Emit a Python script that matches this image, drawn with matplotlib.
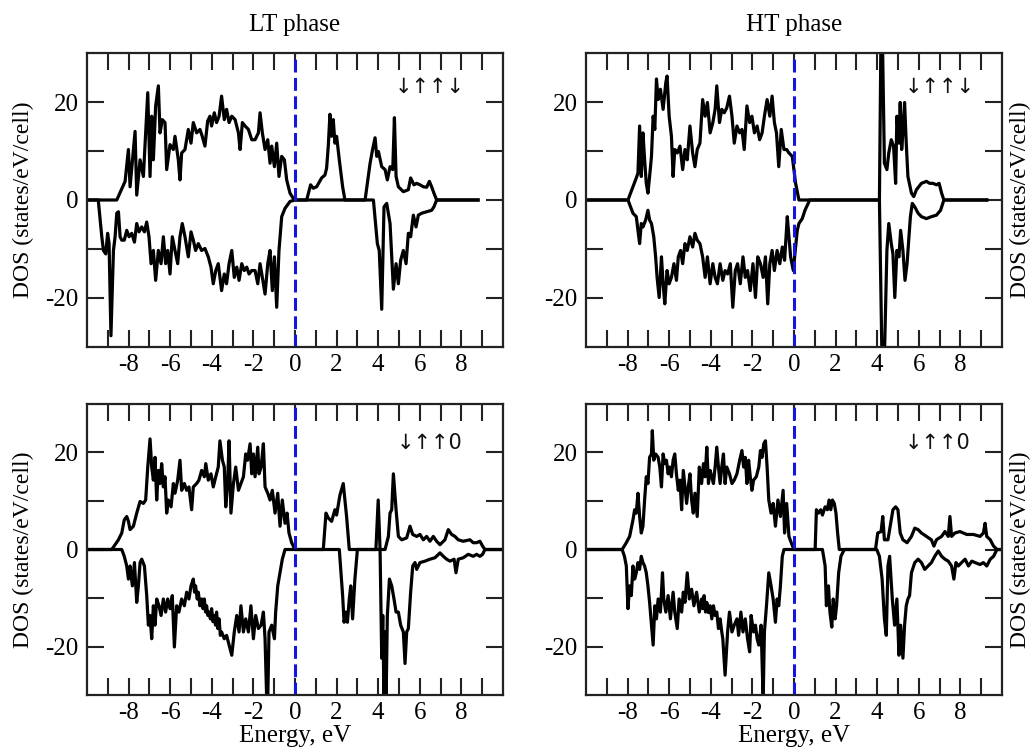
import numpy as np
import matplotlib.pyplot as plt

plt.rcParams['font.family'] = ['Liberation Serif', 'DejaVu Serif']
plt.rcParams['axes.unicode_minus'] = False

# ---- DOS data, (energy in eV, states/eV/cell); spin up > 0, spin down < 0 ----

# LT phase, down-up-up-down
lt_a_up = [(-10, 0), (-8.57, 0), (-8.17, 3.8), (-8.01, 10.3), (-7.93, 2.7), (-7.69, 14.0), (-7.61, 1.0),
           (-7.45, 8.2), (-7.29, 4.8), (-7.08, 21.9), (-6.97, 4.8), (-6.89, 17.1), (-6.81, 8.2), (-6.70, 19.2),
           (-6.57, 23.3), (-6.49, 13.7), (-6.38, 16.4), (-6.25, 15.8), (-6.17, 6.2), (-6.01, 11.3), (-5.85, 10.3),
           (-5.77, 13.0), (-5.61, 8.2), (-5.53, 4.1), (-5.45, 9.6), (-5.29, 10.3), (-5.13, 14.4), (-5.00, 11.6),
           (-4.89, 15.8), (-4.73, 13.7), (-4.57, 14.4), (-4.46, 13.0), (-4.33, 11.0), (-4.20, 16.1), (-4.09, 17.1),
           (-4.01, 15.1), (-3.88, 17.8), (-3.77, 15.8), (-3.65, 17.1), (-3.53, 21.2), (-3.40, 16.4), (-3.29, 18.5),
           (-3.17, 15.8), (-3.04, 17.1), (-2.88, 16.4), (-2.72, 13.7), (-2.64, 10.3), (-2.53, 15.8), (-2.40, 15.1),
           (-2.24, 14.4), (-2.08, 12.3), (-1.92, 12.3), (-1.76, 13.7), (-1.68, 17.8), (-1.57, 13.7), (-1.44, 10.3),
           (-1.31, 12.3), (-1.20, 7.5), (-1.12, 11.0), (-0.99, 6.8), (-0.88, 11.6), (-0.77, 4.8), (-0.64, 8.9),
           (-0.51, 8.2), (-0.40, 4.1), (-0.24, 1.4), (-0.08, 0.3), (0, 0),
           (0.56, 0), (0.75, 3.1), (0.88, 2.4), (1.04, 2.7), (1.28, 4.5), (1.44, 5.1), (1.52, 6.5), (1.60, 11.0),
           (1.68, 17.5), (1.76, 13.0), (1.84, 16.4), (1.92, 11.6), (2.00, 13.0), (2.13, 8.2), (2.29, 2.7), (2.40, 0),
           (3.37, 0), (3.61, 7.5), (3.73, 10.3), (3.85, 12.7), (3.93, 8.9), (4.01, 9.9), (4.17, 6.8), (4.33, 6.2),
           (4.44, 4.1), (4.57, 6.8), (4.70, 6.2), (4.78, 16.8), (4.86, 4.8), (4.97, 2.7), (5.21, 1.7), (5.45, 2.1),
           (5.56, 4.5), (5.72, 3.1), (5.85, 3.4), (6.01, 3.1), (6.17, 2.7), (6.33, 2.6), (6.46, 3.8), (6.57, 2.7),
           (6.68, 1.4), (6.81, 0), (8.80, 0)]
lt_a_dn = [(-10, 0), (-9.46, 0), (-9.29, -7.5), (-9.21, -10.3), (-9.10, -11.0), (-9.01, -6.8), (-8.94, -8.9),
           (-8.85, -27.7), (-8.73, -10.3), (-8.65, -7.5), (-8.57, -2.7), (-8.49, -2.4), (-8.41, -7.5), (-8.33, -8.2),
           (-8.21, -8.2), (-8.09, -6.2), (-7.98, -7.5), (-7.85, -6.8), (-7.72, -8.6), (-7.61, -4.8), (-7.50, -6.5),
           (-7.37, -5.5), (-7.24, -6.5), (-7.13, -4.5), (-7.02, -7.5), (-6.92, -13.0), (-6.81, -10.3), (-6.70, -16.4),
           (-6.57, -10.3), (-6.44, -13.0), (-6.33, -7.5), (-6.22, -13.0), (-6.12, -10.3), (-6.01, -15.1), (-5.90, -7.5),
           (-5.77, -10.3), (-5.64, -13.0), (-5.53, -7.5), (-5.42, -4.8), (-5.29, -7.5), (-5.13, -11.6), (-5.00, -6.5),
           (-4.89, -8.2), (-4.78, -10.3), (-4.65, -8.9), (-4.49, -10.3), (-4.33, -9.9), (-4.17, -11.6), (-4.04, -13.7),
           (-3.93, -17.1), (-3.81, -14.4), (-3.69, -13.0), (-3.53, -18.5), (-3.40, -15.1), (-3.29, -17.1),
           (-3.17, -13.0), (-3.04, -10.3), (-2.92, -15.8), (-2.80, -13.7), (-2.69, -16.4), (-2.56, -13.0),
           (-2.44, -14.4), (-2.32, -13.7), (-2.21, -15.1), (-2.08, -14.4), (-1.92, -14.4), (-1.79, -17.1),
           (-1.68, -13.0), (-1.57, -15.8), (-1.44, -19.2), (-1.31, -13.0), (-1.20, -10.3), (-1.09, -18.5),
           (-0.99, -11.6), (-0.88, -21.9), (-0.77, -10.3), (-0.64, -3.4), (-0.48, -1.7), (-0.24, -0.3), (0, 0),
           (3.77, 0), (3.96, -8.9), (4.05, -10.3), (4.17, -22.3), (4.28, -1.4), (4.41, -0.7), (4.57, -4.8),
           (4.73, -18.2), (4.86, -13.0), (4.97, -17.1), (5.08, -12.3), (5.21, -10.3), (5.34, -13.0), (5.45, -6.8),
           (5.56, -7.5), (5.69, -3.1), (5.82, -5.5), (5.93, -3.1), (6.09, -2.7), (6.33, -2.4), (6.57, -2.1),
           (6.68, -1.4), (6.81, 0), (8.80, 0)]

# HT phase, down-up-up-down
ht_a_up = [(-10, 0), (-7.98, 0), (-7.74, 2.7), (-7.58, 4.5), (-7.50, 5.5), (-7.42, 15.1), (-7.34, 4.8),
           (-7.26, 13.7), (-7.18, 8.2), (-7.10, 3.4), (-7.02, 1.4), (-6.94, 4.8), (-6.85, 8.9), (-6.77, 17.1),
           (-6.69, 14.4), (-6.61, 24.7), (-6.53, 20.5), (-6.42, 22.6), (-6.29, 18.5), (-6.16, 24.0), (-6.10, 25.3),
           (-6.00, 17.1), (-5.89, 13.0), (-5.81, 4.8), (-5.73, 10.3), (-5.61, 9.6), (-5.48, 11.0), (-5.35, 6.2),
           (-5.24, 10.3), (-5.13, 8.2), (-5.00, 15.1), (-4.87, 9.6), (-4.76, 6.8), (-4.65, 10.3), (-4.52, 11.6),
           (-4.39, 20.5), (-4.27, 17.1), (-4.16, 19.9), (-4.03, 13.7), (-3.90, 15.8), (-3.79, 18.5), (-3.71, 23.3),
           (-3.58, 15.8), (-3.47, 18.5), (-3.35, 17.8), (-3.23, 18.8), (-3.10, 21.2), (-2.98, 17.1), (-2.87, 11.6),
           (-2.74, 15.1), (-2.61, 13.7), (-2.50, 14.4), (-2.39, 10.3), (-2.26, 19.2), (-2.13, 15.8), (-2.02, 17.1),
           (-1.90, 13.7), (-1.77, 15.1), (-1.65, 12.3), (-1.53, 13.7), (-1.42, 17.1), (-1.29, 20.5), (-1.16, 17.1),
           (-1.05, 21.2), (-0.94, 15.8), (-0.84, 13.7), (-0.73, 6.8), (-0.61, 14.4), (-0.48, 10.3), (-0.35, 10.3),
           (-0.24, 9.6), (-0.08, 8.9), (0.08, 3.4), (0.24, 0),
           (4.11, 0), (4.21, 45.0), (4.35, 7.5), (4.47, 6.2), (4.56, 9.6), (4.68, 12.3), (4.79, 11.0), (4.89, 3.4),
           (4.95, 17.1), (5.05, 11.6), (5.11, 19.9), (5.18, 10.3), (5.24, 13.7), (5.32, 19.9), (5.40, 11.6),
           (5.48, 4.8), (5.65, 1.4), (5.76, 0.7), (5.89, 2.1), (6.13, 3.4), (6.37, 3.8), (6.53, 3.4), (6.69, 3.4),
           (6.85, 3.1), (6.98, 3.4), (7.10, 1.4), (7.21, 0), (9.27, 0)]
ht_a_dn = [(-10, 0), (-7.98, 0), (-7.74, -2.7), (-7.58, -3.4), (-7.50, -6.2), (-7.42, -8.9), (-7.34, -4.8),
           (-7.26, -5.5), (-7.13, -4.1), (-7.02, -2.1), (-6.94, -4.1), (-6.85, -4.8), (-6.74, -7.5), (-6.65, -11.6),
           (-6.58, -15.8), (-6.48, -19.9), (-6.37, -11.6), (-6.29, -17.1), (-6.21, -21.2), (-6.10, -14.4),
           (-6.00, -17.1), (-5.89, -15.8), (-5.77, -13.0), (-5.65, -16.4), (-5.56, -11.6), (-5.45, -10.3),
           (-5.35, -13.0), (-5.24, -8.9), (-5.13, -10.3), (-5.00, -7.5), (-4.87, -9.6), (-4.76, -6.8), (-4.65, -8.2),
           (-4.52, -8.9), (-4.39, -11.6), (-4.27, -15.8), (-4.16, -11.6), (-4.03, -17.1), (-3.90, -13.0),
           (-3.79, -15.8), (-3.68, -17.1), (-3.55, -13.0), (-3.42, -16.4), (-3.31, -14.4), (-3.19, -15.1),
           (-3.06, -13.0), (-2.94, -21.9), (-2.82, -14.4), (-2.71, -13.0), (-2.58, -17.1), (-2.45, -11.6),
           (-2.34, -15.8), (-2.23, -14.4), (-2.10, -18.5), (-1.97, -13.0), (-1.85, -19.9), (-1.74, -11.6),
           (-1.61, -13.0), (-1.48, -15.8), (-1.37, -11.6), (-1.26, -21.2), (-1.16, -13.0), (-1.05, -10.3),
           (-0.94, -14.4), (-0.81, -10.3), (-0.68, -13.0), (-0.56, -9.6), (-0.45, -12.3), (-0.32, -3.4),
           (-0.24, -7.5), (-0.16, -11.6), (-0.03, -14.4), (0.08, -9.6), (0.16, -6.2), (0.24, -4.8), (0.40, -3.8),
           (0.53, -2.1), (0.65, -1.0), (0.76, 0),
           (4.11, 0), (4.28, -45.0), (4.47, -10.3), (4.56, -4.8), (4.68, -8.9), (4.76, -11.0), (4.85, -19.9),
           (4.95, -10.3), (5.05, -11.6), (5.13, -6.2), (5.24, -10.3), (5.34, -16.4), (5.44, -13.0), (5.53, -7.5),
           (5.60, -3.4), (5.69, -0.7), (5.81, -1.4), (5.97, -2.7), (6.13, -3.4), (6.37, -3.8), (6.61, -3.4),
           (6.85, -3.1), (7.05, -2.1), (7.21, 0), (9.27, 0)]

# LT phase, down-up-up-0
lt_b_up = [(-10, 0), (-8.81, 0), (-8.49, 2.0), (-8.33, 3.4), (-8.21, 6.1), (-8.09, 6.8), (-8.01, 5.8),
           (-7.93, 4.1), (-7.77, 4.8), (-7.61, 7.5), (-7.45, 9.9), (-7.29, 9.5), (-7.18, 10.2), (-7.08, 17.0),
           (-6.97, 22.8), (-6.89, 17.0), (-6.81, 14.3), (-6.73, 19.0), (-6.65, 10.2), (-6.57, 16.3), (-6.49, 13.6),
           (-6.41, 17.7), (-6.33, 12.9), (-6.25, 15.0), (-6.17, 7.5), (-6.09, 10.2), (-5.96, 8.8), (-5.85, 13.6),
           (-5.77, 11.6), (-5.64, 14.3), (-5.53, 18.4), (-5.45, 12.2), (-5.32, 13.6), (-5.21, 12.2), (-5.10, 12.9),
           (-4.97, 8.2), (-4.89, 12.9), (-4.73, 13.6), (-4.62, 14.3), (-4.49, 16.3), (-4.36, 15.0), (-4.29, 17.7),
           (-4.17, 14.3), (-4.04, 15.6), (-3.93, 12.9), (-3.81, 15.0), (-3.69, 17.0), (-3.61, 22.4), (-3.49, 18.4),
           (-3.40, 17.0), (-3.33, 8.8), (-3.24, 13.6), (-3.17, 22.4), (-3.08, 7.5), (-2.96, 13.6), (-2.85, 17.0),
           (-2.72, 12.2), (-2.60, 13.6), (-2.48, 15.0), (-2.37, 19.7), (-2.28, 18.4), (-2.16, 21.8), (-2.08, 15.6),
           (-2.00, 19.7), (-1.92, 15.0), (-1.79, 21.1), (-1.73, 15.6), (-1.63, 17.0), (-1.52, 21.8), (-1.44, 12.9),
           (-1.31, 11.6), (-1.20, 10.2), (-1.09, 12.2), (-0.96, 7.5), (-0.83, 11.6), (-0.72, 4.8), (-0.61, 10.2),
           (-0.48, 5.4), (-0.38, 7.5), (-0.29, 3.4), (-0.16, 1.4), (0, 0),
           (1.36, 0), (1.49, 7.5), (1.60, 6.5), (1.76, 5.8), (1.92, 8.2), (2.00, 7.1), (2.16, 11.2), (2.32, 13.6),
           (2.40, 10.2), (2.48, 6.8), (2.61, 0), (3.89, 0), (4.00, 10.2), (4.09, 0),
           (4.33, 0), (4.49, 2.7), (4.57, 7.5), (4.65, 8.2), (4.73, 15.6), (4.86, 8.2), (4.97, 2.7), (5.13, 2.0),
           (5.37, 2.4), (5.53, 4.8), (5.66, 3.1), (5.85, 2.7), (6.01, 3.1), (6.17, 2.0), (6.33, 2.7), (6.49, 1.7),
           (6.65, 2.7), (6.81, 1.7), (6.97, 1.0), (7.21, 2.0), (7.37, 4.1), (7.53, 3.1), (7.69, 2.7), (7.85, 2.0),
           (8.09, 1.7), (8.41, 2.0), (8.57, 1.4), (8.73, 1.4), (8.89, 1.7), (9.02, 0.7), (9.13, 0), (10, 0)]
lt_b_dn = [(-10, 0), (-8.33, 0), (-8.21, -1.4), (-8.09, -3.4), (-8.01, -6.1), (-7.93, -3.4), (-7.82, -7.5),
           (-7.72, -2.7), (-7.61, -10.9), (-7.53, -7.5), (-7.45, -2.7), (-7.37, -2.0), (-7.24, -3.4), (-7.13, -9.5),
           (-7.05, -15.6), (-6.97, -13.6), (-6.89, -18.4), (-6.81, -11.6), (-6.73, -15.6), (-6.65, -10.2),
           (-6.54, -11.6), (-6.44, -13.6), (-6.33, -10.2), (-6.22, -12.9), (-6.12, -10.2), (-6.01, -12.2),
           (-5.90, -9.5), (-5.80, -20.1), (-5.69, -11.6), (-5.58, -12.9), (-5.45, -10.2), (-5.32, -11.6),
           (-5.21, -8.8), (-5.10, -10.2), (-5.00, -7.5), (-4.89, -6.1), (-4.83, -8.8), (-4.78, -7.5), (-4.70, -10.2),
           (-4.65, -8.8), (-4.57, -11.6), (-4.49, -10.2), (-4.42, -12.2), (-4.36, -10.2), (-4.30, -12.9),
           (-4.25, -11.6), (-4.19, -13.6), (-4.13, -12.9), (-4.07, -14.3), (-4.01, -12.2), (-3.94, -14.9),
           (-3.88, -13.6), (-3.82, -15.6), (-3.77, -12.9), (-3.71, -16.3), (-3.65, -14.3), (-3.59, -17.7),
           (-3.53, -17.0), (-3.40, -18.4), (-3.29, -17.7), (-3.17, -19.7), (-3.04, -21.8),
           (-2.92, -17.0), (-2.80, -13.6), (-2.69, -17.0), (-2.60, -11.6), (-2.48, -17.0), (-2.37, -14.3),
           (-2.24, -17.0), (-2.12, -11.6), (-2.00, -18.4), (-1.89, -13.6), (-1.76, -16.3), (-1.63, -15.6),
           (-1.52, -12.9), (-1.44, -18.4), (-1.36, -31.0), (-1.31, -31.0), (-1.25, -17.0), (-1.12, -15.6),
           (-0.99, -18.4), (-0.93, -12.9), (-0.83, -7.5), (-0.72, -4.8), (-0.61, -2.0), (-0.48, 0),
           (2.13, 0), (2.29, -9.5), (2.36, -15.0), (2.45, -12.9), (2.52, -15.0), (2.61, -10.2), (2.68, -7.5),
           (2.77, -14.3), (2.88, -6.1), (3.00, 0), (4.09, 0), (4.17, -22.4), (4.22, -13.6), (4.28, -31.0),
           (4.33, -17.0), (4.38, -31.0), (4.44, -13.6), (4.54, -6.1), (4.65, -7.5), (4.76, -10.2), (4.86, -12.9),
           (4.97, -12.9), (5.08, -15.6), (5.21, -17.0), (5.29, -23.5), (5.37, -17.0), (5.45, -16.3), (5.56, -8.8),
           (5.66, -3.4), (5.77, -2.7), (5.85, -4.1), (6.01, -2.7), (6.25, -2.4), (6.49, -2.0), (6.73, -1.7),
           (6.97, -0.7), (7.13, -1.4), (7.29, -2.0), (7.45, -2.4), (7.65, -2.0), (7.74, -4.8), (7.85, -2.0),
           (8.09, -1.7), (8.33, -1.0), (8.57, -1.4), (8.73, -1.0), (8.89, -1.4), (9.02, -1.0), (9.13, 0), (10, 0)]

# HT phase, down-up-up-0
ht_b_up = [(-10, 0), (-8.26, 0), (-8.06, 1.4), (-7.90, 2.7), (-7.74, 6.1), (-7.66, 8.2), (-7.58, 7.5),
           (-7.50, 11.6), (-7.42, 6.8), (-7.34, 3.4), (-7.26, 4.8), (-7.18, 10.2), (-7.10, 15.0), (-7.02, 13.6),
           (-6.94, 19.0), (-6.85, 19.7), (-6.81, 24.5), (-6.74, 18.4), (-6.65, 19.7), (-6.53, 19.0), (-6.45, 17.0),
           (-6.37, 12.9), (-6.29, 19.7), (-6.21, 17.7), (-6.13, 18.4), (-6.05, 15.6), (-5.97, 17.0), (-5.89, 15.0),
           (-5.81, 18.4), (-5.73, 19.7), (-5.65, 15.6), (-5.56, 12.2), (-5.48, 14.3), (-5.40, 8.2), (-5.32, 16.3),
           (-5.24, 12.9), (-5.16, 9.5), (-5.08, 12.9), (-5.00, 15.6), (-4.92, 10.2), (-4.84, 7.5), (-4.76, 11.6),
           (-4.65, 6.8), (-4.55, 17.0), (-4.44, 13.6), (-4.35, 17.7), (-4.27, 15.0), (-4.19, 21.1), (-4.11, 13.6),
           (-4.03, 16.3), (-3.95, 15.0), (-3.87, 13.6), (-3.79, 17.0), (-3.71, 21.1), (-3.63, 17.0), (-3.55, 13.6),
           (-3.47, 17.0), (-3.39, 19.7), (-3.31, 13.6), (-3.23, 17.0), (-3.10, 15.6), (-2.98, 13.6), (-2.87, 14.3),
           (-2.74, 15.6), (-2.61, 18.4), (-2.50, 20.4), (-2.42, 17.0), (-2.34, 19.0), (-2.26, 13.6), (-2.18, 18.4),
           (-2.10, 15.0), (-2.02, 12.2), (-1.94, 14.3), (-1.81, 15.0), (-1.69, 17.0), (-1.61, 20.4), (-1.53, 19.0),
           (-1.45, 21.8), (-1.37, 22.4), (-1.29, 17.0), (-1.21, 10.2), (-1.10, 7.5), (-1.00, 9.5), (-0.89, 4.8),
           (-0.77, 10.2), (-0.65, 6.8), (-0.52, 12.2), (-0.45, 3.4), (-0.35, 9.5), (-0.24, 2.7), (-0.13, 1.4), (0, 0),
           (1.02, 0), (1.08, 8.2), (1.18, 7.5), (1.29, 8.2), (1.37, 7.1), (1.50, 8.8), (1.61, 8.2), (1.69, 10.2),
           (1.77, 8.2), (1.85, 10.2), (1.94, 9.5), (2.02, 7.5), (2.10, 3.4), (2.18, 0),
           (3.92, 0), (4.03, 3.4), (4.19, 3.7), (4.27, 6.8), (4.35, 2.0), (4.52, 2.0), (4.76, 8.2), (4.89, 8.8),
           (5.00, 8.2), (5.11, 3.4), (5.24, 2.0), (5.44, 1.4), (5.65, 2.7), (5.81, 4.4), (5.97, 4.1), (6.13, 3.4),
           (6.37, 2.7), (6.61, 2.0), (6.73, 0.7), (6.85, 2.0), (7.10, 2.7), (7.26, 3.7), (7.42, 2.7), (7.50, 6.8),
           (7.58, 2.7), (7.74, 3.4), (7.98, 3.7), (8.15, 3.4), (8.31, 3.1), (8.63, 3.1), (8.95, 2.7), (9.11, 3.4),
           (9.19, 5.4), (9.27, 2.7), (9.44, 2.0), (9.60, 0.7), (9.76, 0), (10, 0)]
ht_b_dn = [(-10, 0), (-8.26, 0), (-8.15, -1.4), (-8.06, -3.4), (-7.98, -12.2), (-7.90, -7.5), (-7.82, -9.5),
           (-7.74, -3.4), (-7.66, -6.1), (-7.58, -4.8), (-7.50, -2.7), (-7.42, -4.1), (-7.34, -1.4), (-7.26, -2.7),
           (-7.18, -3.4), (-7.10, -4.8), (-7.02, -7.5), (-6.94, -10.9), (-6.85, -15.6), (-6.77, -19.7),
           (-6.69, -11.6), (-6.61, -14.3), (-6.53, -10.2), (-6.42, -12.9), (-6.32, -4.8), (-6.26, -10.2),
           (-6.16, -12.9), (-6.05, -9.5), (-5.94, -14.3), (-5.81, -8.8), (-5.73, -12.9), (-5.61, -16.3),
           (-5.52, -10.2), (-5.40, -12.9), (-5.32, -8.8), (-5.24, -10.9), (-5.13, -4.8), (-5.03, -10.2),
           (-4.92, -8.2), (-4.81, -11.6), (-4.68, -8.8), (-4.55, -12.9), (-4.44, -10.2), (-4.38, -12.2),
           (-4.32, -9.5), (-4.25, -12.9), (-4.19, -10.9), (-4.11, -13.0), (-4.03, -11.6), (-3.95, -14.3),
           (-3.87, -11.6), (-3.79, -13.6), (-3.71, -12.9), (-3.63, -16.3), (-3.55, -14.3), (-3.47, -17.0),
           (-3.42, -18.4), (-3.31, -25.9), (-3.19, -17.0), (-3.10, -12.9), (-2.98, -17.0), (-2.87, -15.6),
           (-2.74, -14.3), (-2.66, -17.7), (-2.55, -12.9), (-2.45, -17.0), (-2.34, -14.3), (-2.23, -18.4),
           (-2.13, -21.1), (-2.06, -13.6), (-1.94, -17.0), (-1.85, -15.6), (-1.77, -18.4), (-1.69, -19.7),
           (-1.58, -15.6), (-1.48, -31.0), (-1.42, -17.0), (-1.32, -11.6), (-1.21, -4.8), (-1.10, -7.5),
           (-1.00, -10.2), (-0.89, -15.0), (-0.81, -10.2), (-0.73, -11.6), (-0.65, -7.5), (-0.56, -1.4), (-0.48, 0),
           (1.37, 0), (1.50, -3.4), (1.56, -11.6), (1.66, -7.5), (1.73, -12.9), (1.82, -16.0), (1.89, -10.2),
           (1.98, -14.3), (2.05, -11.6), (2.15, -4.8), (2.26, -1.4), (2.42, 0),
           (3.98, 0), (4.11, -1.4), (4.24, -6.1), (4.35, -14.3), (4.44, -17.7), (4.52, -3.4), (4.60, -1.4),
           (4.73, -10.2), (4.84, -15.6), (4.95, -10.2), (5.05, -21.8), (5.13, -15.6), (5.24, -22.4), (5.32, -15.6),
           (5.40, -11.6), (5.48, -10.2), (5.56, -9.5), (5.65, -4.8), (5.81, -2.7), (5.97, -2.0), (6.13, -2.7),
           (6.29, -4.1), (6.45, -3.4), (6.61, -2.7), (6.77, -1.4), (6.94, -0.3), (7.10, -1.4), (7.26, -2.0),
           (7.42, -2.4), (7.58, -3.4), (7.69, -6.1), (7.79, -2.7), (7.90, -3.4), (8.06, -2.7), (8.23, -2.0),
           (8.39, -3.4), (8.55, -2.4), (8.71, -2.7), (8.95, -3.1), (9.11, -2.7), (9.27, -3.4), (9.44, -2.0),
           (9.60, -1.4), (9.76, 0), (10, 0)]

titles = ['LT phase', 'HT phase']
configs = ['\u2193\u2191\u2191\u2193', '\u2193\u2191\u2191\u2193', '\u2193\u2191\u21910', '\u2193\u2191\u21910']
label_x = [6.5, 7.0, 6.45, 6.9]
label_y = [23, 23, 22, 22]
panels = [(lt_a_up, lt_a_dn), (ht_a_up, ht_a_dn), (lt_b_up, lt_b_dn), (ht_b_up, ht_b_dn)]

fig = plt.figure(figsize=(10.36, 7.53), dpi=100)
boxes = [[0.0840, 0.5392, 0.4015, 0.3904], [0.5656, 0.5392, 0.4015, 0.3904],
         [0.0840, 0.0770, 0.4015, 0.3865], [0.5656, 0.0770, 0.4015, 0.3865]]

for i, (box, (up, dn)) in enumerate(zip(boxes, panels)):
    ax = fig.add_axes(box)
    for curve in (up, dn):
        e, d = zip(*curve)
        ax.plot(e, d, color='black', lw=2.3)
    ax.axvline(0, color='#1515e0', lw=2.2, dashes=(4.2, 1.8))

    ax.set_xlim(-10, 10)
    ax.set_ylim(-30, 30)
    ax.set_xticks(np.arange(-8, 9, 2))
    ax.set_xticks(np.arange(-9, 10, 1), minor=True)
    ax.set_yticks([-20, 0, 20])
    ax.set_yticks([-10, 10], minor=True)
    ax.tick_params(which='both', direction='in', top=True, right=True, length=12, width=1.5,
                   labelsize=18, color='#222222')
    ax.tick_params(axis='x', pad=5)
    ax.tick_params(axis='y', pad=6)
    for s in ax.spines.values():
        s.set_linewidth(1.6)
        s.set_color('#222222')

    ax.text(label_x[i], label_y[i], configs[i], ha='center', va='center', fontsize=15,
            family='DejaVu Sans', color='#111111')

    if i % 2 == 1:
        ax.yaxis.set_label_position('right')
        ax.set_ylabel('DOS (states/eV/cell)', fontsize=17, labelpad=6)
    else:
        ax.set_ylabel('DOS (states/eV/cell)', fontsize=17, labelpad=8)
    if i < 2:
        ax.set_title(titles[i], fontsize=18, pad=16)
    else:
        ax.set_xlabel('Energy, eV', fontsize=18, labelpad=1)

fig.savefig('out.png', dpi=100)
